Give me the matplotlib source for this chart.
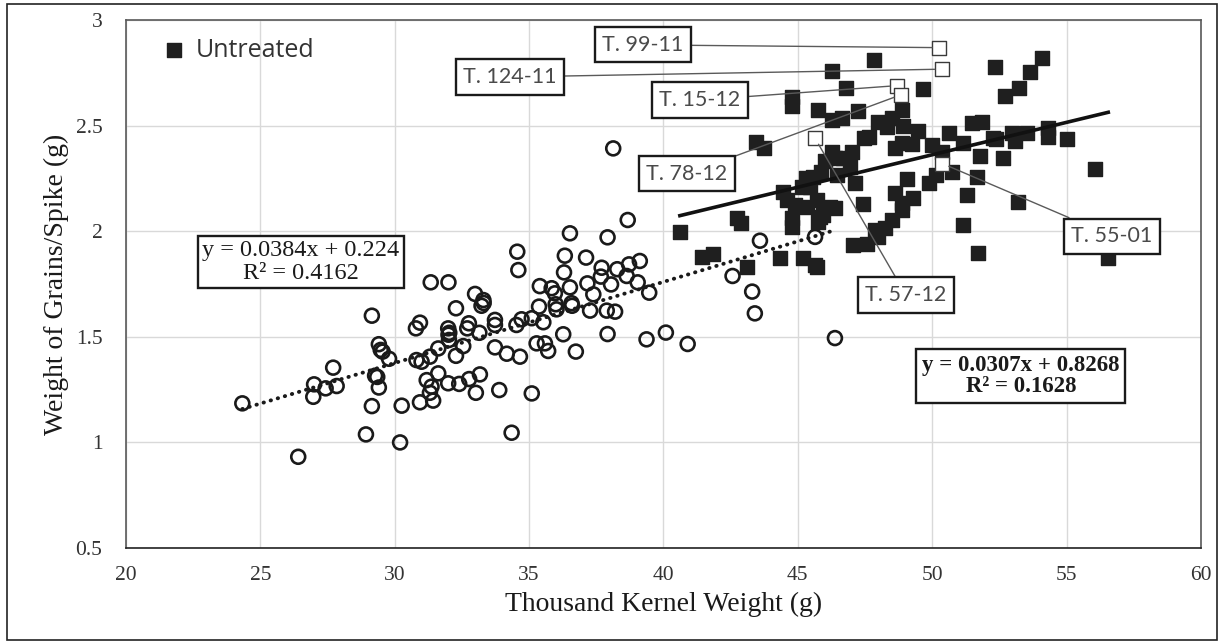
# -*- coding: utf-8 -*-

# Weight of grains per spike vs thousand kernel weight

import matplotlib
matplotlib.use('Agg')
import numpy as np
import matplotlib.pyplot as plt
from matplotlib.patches import Rectangle

# Treated lines (open circles)
treated_x = [24.33, 26.41, 27.0, 26.97, 27.43, 27.84, 27.71, 29.15, 29.41, 29.48,
             29.55, 29.79, 29.27, 29.35, 29.41, 29.15, 28.93, 30.26, 30.2, 36.52,
             34.56, 34.6, 36.33, 36.3, 31.34, 32.0, 32.99, 33.3, 33.31, 33.23,
             32.28, 35.4, 35.84, 35.96, 36.52, 35.37, 35.99, 36.02, 36.58, 36.6,
             30.94, 30.79, 31.99, 32.03, 32.76, 32.7, 33.73, 33.73, 33.15, 34.53,
             34.72, 35.1, 35.53, 35.28, 35.59, 35.71, 36.27, 36.74, 30.81, 31.0,
             31.31, 31.62, 32.02, 32.0, 32.55, 32.28, 33.73, 34.17, 34.66, 31.62,
             31.19, 31.37, 31.31, 31.43, 30.94, 31.99, 32.4, 32.77, 33.17, 33.02,
             33.89, 35.1, 34.35, 38.13, 38.67, 37.92, 43.59, 37.12, 37.7, 38.28,
             38.72, 39.12, 37.67, 38.63, 37.17, 38.05, 39.04, 37.39, 39.47, 37.27,
             37.89, 38.2, 37.92, 39.37, 40.09, 40.9, 42.57, 43.3, 43.4, 46.38,
             45.64]
treated_y = [1.185, 0.932, 1.275, 1.216, 1.256, 1.267, 1.354, 1.60, 1.465, 1.438,
             1.43, 1.396, 1.316, 1.31, 1.26, 1.172, 1.038, 1.174, 1.0, 1.99,
             1.903, 1.816, 1.884, 1.805, 1.758, 1.758, 1.703, 1.674, 1.66, 1.647,
             1.635, 1.74, 1.73, 1.706, 1.734, 1.643, 1.654, 1.63, 1.659, 1.647,
             1.567, 1.54, 1.54, 1.519, 1.564, 1.54, 1.58, 1.556, 1.519, 1.556,
             1.583, 1.588, 1.569, 1.469, 1.469, 1.433, 1.512, 1.43, 1.39, 1.382,
             1.406, 1.445, 1.485, 1.51, 1.456, 1.41, 1.45, 1.42, 1.406, 1.327,
             1.295, 1.264, 1.235, 1.198, 1.19, 1.28, 1.277, 1.30, 1.322, 1.235,
             1.248, 1.232, 1.046, 2.392, 2.053, 1.971, 1.955, 1.875, 1.827, 1.82,
             1.843, 1.859, 1.785, 1.788, 1.753, 1.748, 1.758, 1.701, 1.709, 1.624,
             1.624, 1.619, 1.513, 1.488, 1.52, 1.466, 1.788, 1.714, 1.611, 1.494,
             1.973]

# Untreated lines (filled squares)
untreated_x = [46.28, 44.77, 44.77, 45.76, 46.26, 43.46, 43.74, 46.28, 46.38, 45.88,
               45.57, 45.45, 44.46, 44.58, 44.89, 45.33, 44.77, 44.77, 42.72, 42.9,
               40.61, 45.76, 45.95, 46.2, 41.42, 41.85, 43.12, 44.33, 45.2, 45.7,
               47.83, 46.81, 49.67, 52.33, 47.25, 46.63, 47.99, 48.52, 48.86, 48.3,
               48.93, 49.46, 47.66, 47.45, 50.63, 51.47, 51.84, 52.27, 48.61, 48.86,
               49.24, 49.98, 50.35, 51.16, 51.78, 47.0, 46.69, 46.94, 46.44, 47.12,
               49.07, 50.14, 49.89, 50.72, 51.65, 51.28, 48.61, 49.3, 48.86, 48.86,
               47.41, 46.38, 48.49, 48.24, 47.87, 47.99, 47.56, 47.07, 51.13, 51.69,
               54.07, 53.64, 53.23, 52.71, 52.37, 52.96, 53.08, 53.51, 54.29, 54.29,
               55.0, 52.64, 56.06, 53.18, 56.55, 45.3, 46.0, 45.7, 45.14, 45.82,
               45.64]
untreated_y = [2.76, 2.637, 2.593, 2.574, 2.527, 2.424, 2.395, 2.376, 2.345, 2.282,
               2.258, 2.211, 2.187, 2.148, 2.124, 2.113, 2.061, 2.021, 2.061, 2.037,
               1.995, 2.045, 2.077, 2.116, 1.879, 1.89, 1.832, 1.872, 1.872, 1.832,
               2.81, 2.68, 2.673, 2.779, 2.569, 2.535, 2.519, 2.537, 2.574, 2.492,
               2.498, 2.474, 2.444, 2.44, 2.463, 2.511, 2.519, 2.44, 2.392, 2.416,
               2.413, 2.408, 2.376, 2.419, 2.356, 2.376, 2.345, 2.305, 2.266, 2.23,
               2.246, 2.266, 2.227, 2.282, 2.255, 2.171, 2.18, 2.156, 2.132, 2.10,
               2.129, 2.111, 2.053, 2.014, 2.006, 1.974, 1.939, 1.935, 2.03, 1.895,
               2.818, 2.755, 2.68, 2.64, 2.437, 2.463, 2.427, 2.463, 2.487, 2.447,
               2.437, 2.345, 2.293, 2.14, 1.872, 2.25, 2.33, 2.148, 2.21, 2.069,
               1.84]

# Highlighted genotypes (open squares) and where their label boxes sit
marcados_nome = ['T. 99-11', 'T. 124-11', 'T. 15-12', 'T. 78-12', 'T. 57-12', 'T. 55-01']
marcados_x = [50.25, 50.35, 48.68, 48.82, 45.64, 50.38]
marcados_y = [2.869, 2.767, 2.689, 2.645, 2.44, 2.32]
rotulo_x = [39.24, 34.29, 41.36, 40.87, 49.02, 56.69]
rotulo_y = [2.882, 2.73, 2.621, 2.271, 1.698, 1.977]

# Trend line coefficients printed on the chart
coef_tratado = (0.0384, 0.224)
coef_nao_tratado = (0.0307, 0.8268)

serif = 'Liberation Serif'
sans = 'Lato'

fig = plt.figure(figsize=(12.24, 6.44), dpi=100)
ax = fig.add_axes([0.1029, 0.149, 0.8783, 0.820])

# outer frame around the whole figure
fig.patches.append(Rectangle((0.006, 0.006), 0.988, 0.988, transform=fig.transFigure,
                             fill=False, edgecolor='#222222', linewidth=1.2))

ax.set_xlim(20, 60)
ax.set_ylim(0.5, 3)
ax.set_xticks(np.arange(20, 61, 5))
ax.set_yticks(np.arange(0.5, 3.01, 0.5))
ax.set_xticklabels(['20', '25', '30', '35', '40', '45', '50', '55', '60'],
                   fontsize=15.5, family=serif)
ax.set_yticklabels(['0.5', '1', '1.5', '2', '2.5', '3'], fontsize=15.5, family=serif)
ax.grid(True, color='#d9d9d9', linewidth=1)
ax.set_axisbelow(True)
for s in ax.spines.values():
    s.set_color('#595959')
    s.set_linewidth(1.2)
ax.spines['bottom'].set_color('#222222')
ax.tick_params(length=0, colors='#333333')
ax.tick_params(axis='x', pad=13)
ax.tick_params(axis='y', pad=17)

# scatter
ax.scatter(treated_x, treated_y, s=100, facecolors='none', edgecolors='#1a1a1a',
           linewidths=1.9, zorder=3)
ax.scatter(untreated_x, untreated_y, s=90, marker='s', color='#1f1f1f',
           label='Untreated', zorder=4)
ax.scatter(marcados_x, marcados_y, s=100, marker='s', facecolors='white',
           edgecolors='#3a3a3a', linewidths=1.0, zorder=5)

# trend lines
xt = np.array([min(treated_x), max(treated_x)])
ax.plot(xt, coef_tratado[0] * xt + coef_tratado[1], color='#1a1a1a',
        linewidth=2.8, linestyle=(0, (0.1, 1.8)), dash_capstyle='round', zorder=6)
xu = np.array([min(untreated_x), max(untreated_x)])
ax.plot(xu, coef_nao_tratado[0] * xu + coef_nao_tratado[1], color='#111111',
        linewidth=2.6, zorder=6)

# labels of the highlighted genotypes
for nome, px, py, lx, ly in zip(marcados_nome, marcados_x, marcados_y, rotulo_x, rotulo_y):
    ax.annotate(nome, xy=(px, py), xytext=(lx, ly), textcoords='data',
                ha='center', va='center', fontsize=15.5, family=sans, color='#4a4a4a',
                bbox=dict(boxstyle='square,pad=0.35', facecolor='white',
                          edgecolor='#1a1a1a', linewidth=1.7),
                arrowprops=dict(arrowstyle='-', color='#5a5a5a', linewidth=1.0,
                                shrinkA=0, shrinkB=5),
                zorder=7)

# equation boxes
ax.text(26.5, 1.854, 'y = 0.0384x + 0.224\nR² = 0.4162', ha='center', va='center',
        fontsize=17.5, family=serif, color='#1a1a1a', linespacing=1.1,
        bbox=dict(boxstyle='square,pad=0.18', facecolor='white', edgecolor='#1a1a1a',
                  linewidth=1.7), zorder=8)
ax.text(53.3, 1.314, 'y = 0.0307x + 0.8268\nR² = 0.1628', ha='center', va='center',
        fontsize=16.5, family=serif, fontweight='bold', color='#1a1a1a', linespacing=1.0,
        bbox=dict(boxstyle='square,pad=0.25', facecolor='white', edgecolor='#1a1a1a',
                  linewidth=1.7), zorder=8)

# axis titles
ax.set_xlabel('Thousand Kernel Weight (g)', fontsize=20, family=serif,
              color='#1a1a1a', labelpad=5)
ax.set_ylabel('Weight of Grains/Spike (g)', fontsize=20, family=serif,
              color='#1a1a1a', labelpad=5)

# legend
leg = ax.legend(loc='upper left', bbox_to_anchor=(0.024, 0.985), frameon=False,
                prop={'family': 'Open Sans', 'size': 18}, handletextpad=0.35,
                handlelength=1.0, markerscale=1.1, borderaxespad=0)
for t in leg.get_texts():
    t.set_color('#333333')

plt.savefig('out.png', dpi=100)
